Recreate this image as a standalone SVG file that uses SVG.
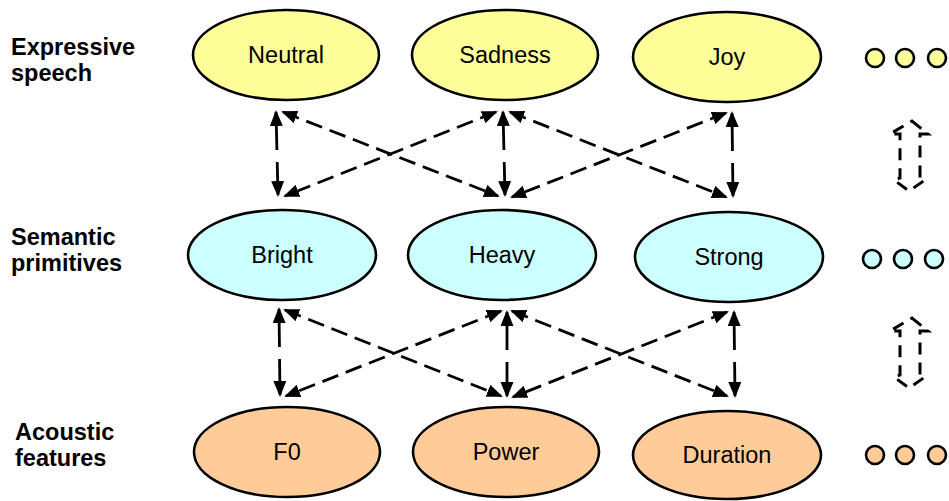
<svg xmlns="http://www.w3.org/2000/svg" width="949" height="501" viewBox="0 0 949 501">
<style>
.lbl{font-family:"Liberation Sans",Arial,sans-serif;font-weight:bold;font-size:23.5px;fill:#000}
.nt{font-family:"Liberation Sans",Arial,sans-serif;font-size:23.5px;fill:#000;text-anchor:middle}
.n{stroke:#000;stroke-width:2.6}
.y{fill:#FFFF99}
.c{fill:#CCFFFF}
.o{fill:#FFCC99}
.e{stroke:#000;stroke-width:2.8;fill:none;stroke-dasharray:17 8;marker-start:url(#ah);marker-end:url(#ah)}
.v{stroke-dasharray:38 12}
.da{fill:none;stroke:#000;stroke-width:3;stroke-dasharray:12 8;stroke-linejoin:miter}
</style>
<defs>
<marker id="ah" markerUnits="userSpaceOnUse" markerWidth="18" markerHeight="14" refX="14" refY="6.5" orient="auto-start-reverse" viewBox="0 0 18 14">
<path d="M0,0 L16,6.5 L0,13 z" fill="#000"/>
</marker>
</defs>
<rect width="949" height="501" fill="#fff"/>
<g id="labels">
<text class="lbl" x="11" y="55">Expressive</text>
<text class="lbl" x="11" y="81">speech</text>
<text class="lbl" x="11" y="245">Semantic</text>
<text class="lbl" x="11" y="271">primitives</text>
<text class="lbl" x="15" y="440">Acoustic</text>
<text class="lbl" x="15" y="466">features</text>
</g>
<g id="connectors">
<line class="e v" x1="276" y1="112" x2="278" y2="195"/>
<line class="e v" x1="503" y1="112" x2="505" y2="195"/>
<line class="e v" x1="732" y1="113" x2="733" y2="196"/>
<line class="e" x1="283" y1="112" x2="498" y2="196"/>
<line class="e" x1="496" y1="112" x2="285" y2="196"/>
<line class="e" x1="510" y1="112" x2="726" y2="197"/>
<line class="e" x1="726" y1="113" x2="512" y2="197"/>
<line class="e v" x1="279" y1="309" x2="280" y2="395"/>
<line class="e v" x1="507" y1="312" x2="507" y2="396"/>
<line class="e v" x1="734" y1="312" x2="735" y2="396"/>
<line class="e" x1="285" y1="310" x2="501" y2="396"/>
<line class="e" x1="501" y1="311" x2="286" y2="396"/>
<line class="e" x1="512" y1="311" x2="727" y2="396"/>
<line class="e" x1="727" y1="312" x2="513" y2="397"/>
<path class="da" d="M912,121 L928,134 L920,134 L920,178 L925,180 L909,191 L894,180 L900,178 L900,134 L890,134 Z"/>
<path class="da" d="M912,318 L928,331 L920,331 L920,375 L925,377 L909,388 L894,377 L900,375 L900,331 L890,331 Z"/>
</g>
<g id="neutral"><ellipse class="n y" cx="286" cy="55" rx="93" ry="45"/><text class="nt" x="286" y="63">Neutral</text></g>
<g id="sadness"><ellipse class="n y" cx="505" cy="55" rx="93" ry="45"/><text class="nt" x="505" y="63">Sadness</text></g>
<g id="joy"><ellipse class="n y" cx="727" cy="57" rx="94" ry="45"/><text class="nt" x="727" y="65">Joy</text></g>
<g id="more-speech"><circle class="n y" cx="875" cy="58" r="9"/><circle class="n y" cx="905" cy="58" r="9"/><circle class="n y" cx="937" cy="58" r="9"/></g>
<g id="bright"><ellipse class="n c" cx="282" cy="255" rx="94" ry="45"/><text class="nt" x="282" y="263">Bright</text></g>
<g id="heavy"><ellipse class="n c" cx="502" cy="255" rx="94" ry="45"/><text class="nt" x="502" y="263">Heavy</text></g>
<g id="strong"><ellipse class="n c" cx="729" cy="257" rx="94" ry="45"/><text class="nt" x="729" y="265">Strong</text></g>
<g id="more-primitives"><circle class="n c" cx="872" cy="259" r="9"/><circle class="n c" cx="903" cy="259" r="9"/><circle class="n c" cx="934" cy="259" r="9"/></g>
<g id="f0"><ellipse class="n o" cx="287" cy="452" rx="93" ry="45"/><text class="nt" x="287" y="460">F0</text></g>
<g id="power"><ellipse class="n o" cx="506" cy="452" rx="93" ry="45"/><text class="nt" x="506" y="460">Power</text></g>
<g id="duration"><ellipse class="n o" cx="727" cy="455" rx="94" ry="44"/><text class="nt" x="727" y="463">Duration</text></g>
<g id="more-features"><circle class="n o" cx="875" cy="455" r="9"/><circle class="n o" cx="905" cy="455" r="9"/><circle class="n o" cx="937" cy="455" r="9"/></g>
</svg>
